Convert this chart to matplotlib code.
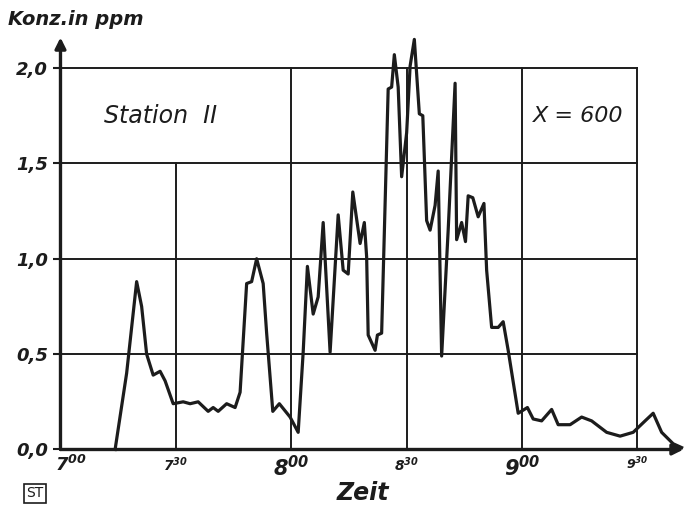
import matplotlib.pyplot as plt

# Zeit in Minuten nach 7:00, Konzentration in ppm
zeit = [14.2, 17.2, 19.8, 21.1, 22.4, 24.1, 25.9, 27.2, 29.3, 31.9, 33.7, 35.8,
        38.4, 39.7, 41.0, 43.2, 45.4, 46.7, 48.4, 49.7, 51.0, 52.7, 53.6, 55.2,
        56.9, 59.7, 61.8, 63.1, 64.2, 65.7, 67.0, 68.3, 70.1, 72.2, 73.5, 74.8,
        76.0, 77.9, 79.0, 79.6, 80.0, 81.8, 82.4, 83.5, 85.2, 86.1, 86.8, 87.8,
        88.7, 90.0, 90.9, 92.0, 93.3, 94.2, 95.2, 96.1, 97.4, 98.2, 99.1, 100.8,
        102.6, 103.0, 104.3, 105.3, 106.0, 107.2, 108.6, 110.1, 110.8, 112.1,
        113.8, 115.1, 116.4, 119.0, 121.4, 122.9, 125.1, 127.7, 129.4, 132.5,
        135.5, 138.1, 142.0, 145.5, 148.9, 152.0, 154.1, 156.3, 159.3, 161.5]
konz = [0.0, 0.40, 0.88, 0.75, 0.50, 0.39, 0.41, 0.36, 0.24, 0.25, 0.24, 0.25,
        0.20, 0.22, 0.20, 0.24, 0.22, 0.30, 0.87, 0.88, 1.00, 0.87, 0.61, 0.20,
        0.24, 0.17, 0.09, 0.51, 0.96, 0.71, 0.80, 1.19, 0.51, 1.23, 0.94, 0.92,
        1.35, 1.08, 1.19, 1.01, 0.60, 0.52, 0.60, 0.61, 1.89, 1.90, 2.07, 1.90,
        1.43, 1.66, 2.01, 2.15, 1.76, 1.75, 1.20, 1.15, 1.28, 1.46, 0.49, 1.15,
        1.92, 1.10, 1.19, 1.09, 1.33, 1.32, 1.22, 1.29, 0.94, 0.64,
        0.64, 0.67, 0.52, 0.19, 0.22, 0.16, 0.15, 0.21, 0.13, 0.13,
        0.17, 0.15, 0.09, 0.07, 0.09, 0.15, 0.19, 0.09, 0.03, 0.01]

x_ticks = [0, 30, 60, 90, 120, 150]
x_stunde = ['7', '7', '8', '8', '9', '9']
x_minute = ['00', '30', '00', '30', '00', '30']
x_groesse = [13, 10, 15, 10, 15, 9]
y_ticks = [0.0, 0.5, 1.0, 1.5, 2.0]
y_labels = ['0,0', '0,5', '1,0', '1,5', '2,0']

plt.rcParams['mathtext.fontset'] = 'custom'
plt.rcParams['mathtext.it'] = 'DejaVu Sans:italic:bold'
plt.rcParams['mathtext.rm'] = 'DejaVu Sans:italic:bold'

ink = '#1c1c1c'
fig = plt.figure(figsize=(6.85, 5.15), dpi=100)
ax = fig.add_axes([0.0883, 0.1272, 0.9096, 0.800])
ax.set_xlim(0, 162)
ax.set_ylim(0, 2.16)
for s in ax.spines.values():
    s.set_visible(False)
ax.set_xticks([])
ax.set_yticks(y_ticks)
ax.set_yticklabels(y_labels, fontsize=13, fontweight='bold', fontstyle='italic', color=ink)
ax.tick_params(axis='y', length=5, width=1.5, color=ink, pad=4)

# Gitter: oben links bleibt Platz fuer das Textfeld "Station II"
for yv in y_ticks[1:]:
    ax.plot([0, x_ticks[-1]], [yv, yv], color=ink, lw=1.4, zorder=1)
for xv in x_ticks[1:]:
    top = 1.5 if xv == 30 else 2.0
    ax.plot([xv, xv], [0, top], color=ink, lw=1.4, zorder=1)

# Achsen mit Pfeilen
ax.annotate('', xy=(0, 2.16), xytext=(0, 0), annotation_clip=False,
            arrowprops=dict(arrowstyle='-|>', lw=2.4, color=ink, mutation_scale=16,
                            shrinkA=0, shrinkB=0))
ax.annotate('', xy=(162, 0), xytext=(0, 0), annotation_clip=False,
            arrowprops=dict(arrowstyle='-|>', lw=2.4, color=ink, mutation_scale=16,
                            shrinkA=0, shrinkB=0))

ax.plot(zeit, konz, color=ink, lw=2.3, clip_on=False, zorder=3,
        solid_joinstyle='round')

# x-Beschriftung mit hochgestellten Minuten
for i, xv in enumerate(x_ticks):
    lab = r'$%s^{%s}$' % (x_stunde[i], x_minute[i])
    ha = 'left' if i == 0 else 'center'
    ax.text(xv - (1.5 if i == 0 else 0), -0.03, lab, ha=ha, va='top',
            fontsize=x_groesse[i], color=ink)

fig.text(0.012, 0.962, 'Konz.in ppm', fontsize=14, fontweight='bold',
         fontstyle='italic', color=ink, ha='left', va='center')
ax.text(26, 1.75, 'Station  II', fontsize=17, fontstyle='italic', color=ink,
        ha='center', va='center')
ax.text(134.5, 1.75, 'X = 600', fontsize=16, fontstyle='italic', color=ink,
        ha='center', va='center')
fig.text(0.53, 0.042, 'Zeit', fontsize=17, fontweight='bold', fontstyle='italic',
         color=ink, ha='center', va='center')
fig.text(0.051, 0.042, 'ST', fontsize=10, color=ink, ha='center', va='center',
         bbox=dict(boxstyle='square,pad=0.2', fc='white', ec=ink, lw=1.2))

fig.savefig('out.png', dpi=100, facecolor='white')
